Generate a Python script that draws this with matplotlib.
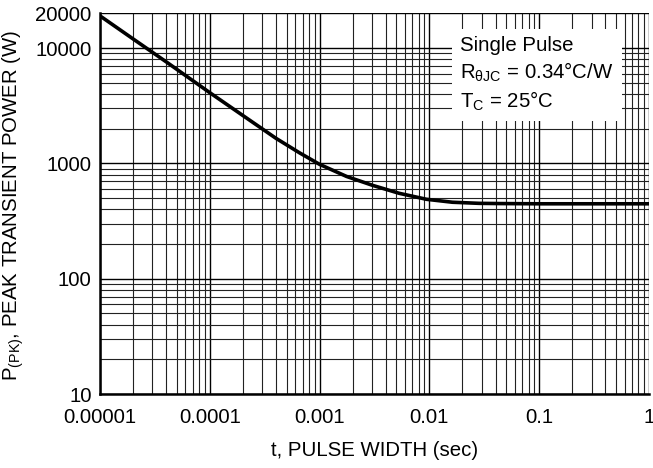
import matplotlib
matplotlib.use('Agg')
import matplotlib.pyplot as plt
from matplotlib.ticker import FixedLocator, LogLocator, NullFormatter

plt.rcParams['font.family'] = ['Liberation Sans', 'DejaVu Sans']
plt.rcParams['mathtext.fontset'] = 'custom'
plt.rcParams['mathtext.rm'] = 'Liberation Sans'
plt.rcParams['mathtext.it'] = 'Liberation Sans'

# curve: pulse width (s) vs peak power (W)
pulse_width = [1e-5, 2e-5, 4e-5, 1e-4, 2e-4, 4e-4, 6.6e-4, 1e-3, 1.76e-3,
               3.03e-3, 5.3e-3, 9.4e-3, 0.0162, 0.0284, 0.0435, 0.1, 1.0]
peak_power = [19000, 12000, 7600, 4100, 2600, 1650, 1230, 980, 770,
              645, 550, 488, 460, 450, 448, 446, 446]

x_ticks = [1e-5, 1e-4, 1e-3, 1e-2, 1e-1, 1]
x_labels = ['0.00001', '0.0001', '0.001', '0.01', '0.1', '1']
y_ticks = [10, 100, 1000, 10000, 20000]
y_labels = ['10', '100', '1000', '10000', '20000']

fs = 14.7

fig = plt.figure(figsize=(6.53, 4.68), dpi=100)
ax = fig.add_axes([0.1531, 0.1581, 0.9939 - 0.1531, 0.9716 - 0.1581])

ax.set_xscale('log')
ax.set_yscale('log')
ax.set_xlim(1e-5, 1)
ax.set_ylim(10, 20000)

ax.xaxis.set_major_locator(FixedLocator(x_ticks))
ax.set_xticklabels(x_labels)
ax.xaxis.set_minor_locator(LogLocator(base=10, subs=range(2, 10), numticks=20))
ax.xaxis.set_minor_formatter(NullFormatter())
ax.yaxis.set_major_locator(FixedLocator(y_ticks))
ax.set_yticklabels(y_labels)
ax.yaxis.set_minor_locator(LogLocator(base=10, subs=range(2, 10), numticks=20))
ax.yaxis.set_minor_formatter(NullFormatter())

ax.grid(which='major', color='black', linewidth=1.0)
ax.grid(which='minor', color='#222222', linewidth=0.8)
ax.set_axisbelow(True)

ax.tick_params(which='both', length=0)
ax.tick_params(axis='x', labelsize=fs, pad=10)
ax.tick_params(axis='y', labelsize=fs, pad=6)

for s in ['top', 'right']:
    ax.spines[s].set_visible(False)
for s in ['left', 'bottom']:
    ax.spines[s].set_linewidth(1.8)

ax.plot(pulse_width, peak_power, color='black', linewidth=2.6, zorder=3)

ax.text(0.656, 0.94,
        'Single Pulse\n'
        r'R$_{\mathregular{\theta JC}}$ = 0.34°C/W' '\n'
        r'T$_{\mathregular{C}}$ = 25°C',
        transform=ax.transAxes, fontsize=fs, va='top', ha='left',
        linespacing=1.3, zorder=4,
        bbox=dict(facecolor='white', edgecolor='none', pad=6))

fig.text(375, 468 - 450, 't, PULSE WIDTH (sec)', fontsize=fs,
         ha='center', va='center', transform=None)
fig.text(13, (468 - 205), r'P$_{\mathregular{(PK)}}$, PEAK TRANSIENT POWER (W)',
         fontsize=fs, rotation=90, ha='center', va='center', transform=None)

fig.savefig('out.png', dpi=100)
